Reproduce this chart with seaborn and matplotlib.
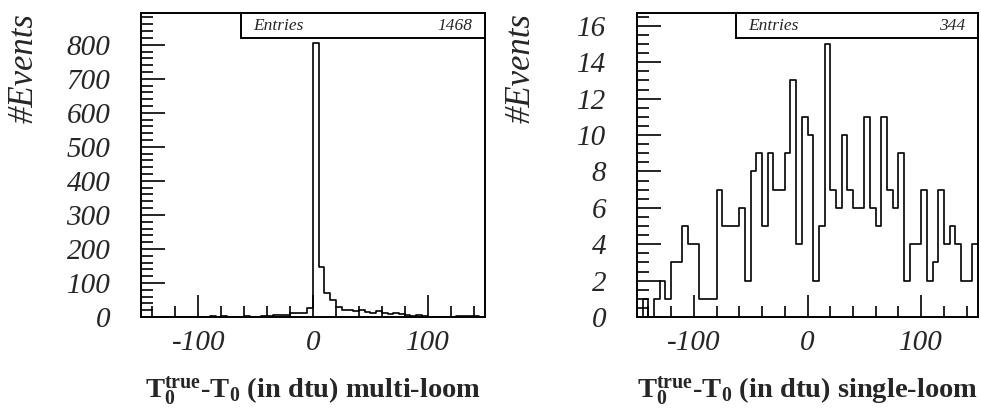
import numpy as np
import pandas as pd
import matplotlib
matplotlib.use("Agg")
import matplotlib.pyplot as plt
import seaborn as sns
from matplotlib.ticker import MultipleLocator
from matplotlib.patches import Rectangle

# binning del histograma (dtu)
bin_lo, bin_hi, bin_w = -150, 150, 5

# cuentas por bin (60 bins de 5 dtu)
multi_counts = [0, 0, 0, 0, 0, 0, 0, 0, 0, 0,
                0, 0, 2, 0, 4, 1, 1, 1, 4, 1,
                1, 2, 2, 5, 5, 7, 12, 12, 12, 26,
                805, 147, 71, 49, 30, 20, 22, 17, 20, 16,
                11, 19, 12, 9, 12, 10, 7, 4, 7, 3,
                1, 1, 0, 1, 1, 2, 2, 2, 2, 1]
single_counts = [0, 1, 0, 1, 2, 1, 3, 3, 5, 4,
                 4, 1, 1, 1, 7, 5, 5, 5, 6, 2,
                 8, 9, 5, 9, 7, 7, 9, 13, 4, 11,
                 10, 2, 5, 15, 7, 6, 10, 7, 6, 6,
                 11, 6, 5, 11, 7, 6, 9, 2, 4, 4,
                 7, 2, 3, 7, 4, 5, 4, 2, 2, 4]
entries_multi = 1468
entries_single = 344
xlabel_multi = r"$\mathrm{T_0^{true}}$-$\mathrm{T_0}$ (in dtu) multi-loom"
xlabel_single = r"$\mathrm{T_0^{true}}$-$\mathrm{T_0}$ (in dtu) single-loom"
ylabel = "#Events"

sns.set_style("ticks")
plt.rcParams["font.family"] = ["Liberation Serif", "DejaVu Serif"]
plt.rcParams["font.style"] = "italic"
plt.rcParams["axes.unicode_minus"] = False
plt.rcParams["mathtext.fontset"] = "custom"
plt.rcParams["mathtext.rm"] = "Liberation Serif:style=normal:weight=bold"
plt.rcParams["mathtext.it"] = "Liberation Serif:style=normal:weight=bold"
plt.rcParams["mathtext.bf"] = "Liberation Serif:style=normal:weight=bold"


def draw(ax, counts, entries, xlabel, ymax, ymajor, yminor):
    centers = np.arange(bin_lo, bin_hi, bin_w) + bin_w / 2
    df = pd.DataFrame({"t0": centers, "n": counts})
    sns.histplot(data=df, x="t0", weights="n", binwidth=bin_w, binrange=(bin_lo, bin_hi),
                 element="step", fill=False, color="black", linewidth=1.2, ax=ax)
    ax.set_xlim(bin_lo, bin_hi)
    ax.set_ylim(0, ymax)

    ax.xaxis.set_major_locator(MultipleLocator(100))
    ax.xaxis.set_minor_locator(MultipleLocator(20))
    ax.yaxis.set_major_locator(MultipleLocator(ymajor))
    ax.yaxis.set_minor_locator(MultipleLocator(yminor))

    ax.tick_params(which="both", direction="in", top=False, right=False,
                   width=1.2, color="black", labelsize=21)
    ax.tick_params(axis="x", which="major", length=16, pad=9)
    ax.tick_params(axis="x", which="minor", length=8)
    ax.tick_params(axis="y", which="major", length=17, pad=22)
    ax.tick_params(axis="y", which="minor", length=8.5)

    for s in ax.spines.values():
        s.set_visible(True)
        s.set_linewidth(1.4)
        s.set_color("black")

    ax.set_xlabel(xlabel, fontsize=20.5, fontstyle="normal", fontweight="bold", labelpad=13)
    ax.set_ylabel(ylabel, fontsize=25, loc="top")
    ax.yaxis.set_label_coords(-0.29, 1.0)

    # caja de estadisticas estilo ROOT
    ax.add_patch(Rectangle((0.29, 0.918), 0.71, 0.082, transform=ax.transAxes,
                           facecolor="white", edgecolor="black", linewidth=1.4,
                           clip_on=False, zorder=5))
    ax.text(0.326, 0.959, "Entries", transform=ax.transAxes, fontsize=12.5,
            ha="left", va="center", zorder=6)
    ax.text(0.962, 0.959, str(entries), transform=ax.transAxes, fontsize=12.5,
            ha="right", va="center", zorder=6)


fig = plt.figure(figsize=(9.81, 4.08), dpi=100)
ax1 = fig.add_axes([0.1437, 0.223, 0.3507, 0.745])
ax2 = fig.add_axes([0.6493, 0.223, 0.3477, 0.745])

draw(ax1, multi_counts, entries_multi, xlabel_multi, 893, 100, 20)
draw(ax2, single_counts, entries_single, xlabel_single, 16.7, 2, 0.5)

fig.savefig("out.png", dpi=100)
